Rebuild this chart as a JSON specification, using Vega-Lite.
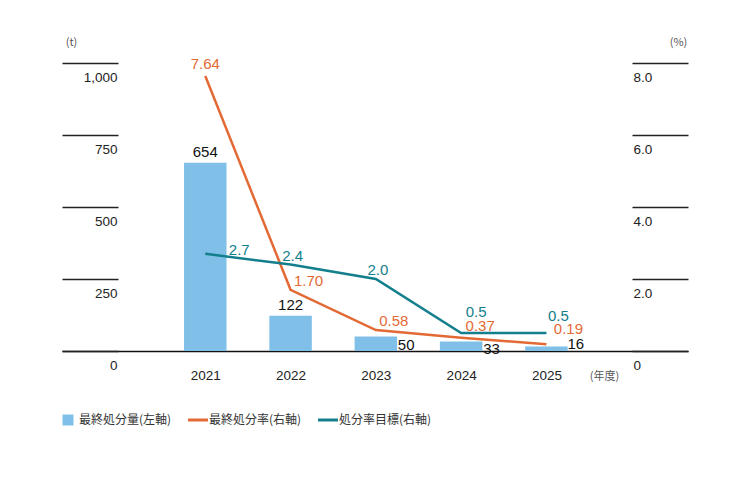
{
  "$schema": "https://vega.github.io/schema/vega-lite/v6.json",
  "autosize": {"type": "none"},
  "padding": {"left": 62, "top": 63, "right": 62, "bottom": 129},
  "width": 626,
  "height": 288,
  "background": "white",
  "config": {
    "view": {"stroke": null},
    "text": {"font": "Liberation Sans", "fontSize": 15},
    "axis": {"labelFont": "Liberation Sans", "titleFont": "Noto Sans CJK JP"}
  },
  "data": {
    "values": [
      {"year": 2021, "amount": 654, "rate": 7.64, "target": 2.7},
      {"year": 2022, "amount": 122, "rate": 1.70, "target": 2.4},
      {"year": 2023, "amount": 50, "rate": 0.58, "target": 2.0},
      {"year": 2024, "amount": 33, "rate": 0.37, "target": 0.5},
      {"year": 2025, "amount": 16, "rate": 0.19, "target": 0.5}
    ]
  },
  "encoding": {
    "x": {
      "field": "year",
      "type": "quantitative",
      "scale": {"domain": [2019.32, 2026.66], "nice": false, "zero": false, "padding": 0},
      "axis": {
        "values": [2021, 2022, 2023, 2024, 2025],
        "format": "d",
        "labelAngle": 0,
        "labelFlush": false,
        "grid": false,
        "ticks": false,
        "domainColor": "#111",
        "domainWidth": 1.5,
        "labelPadding": 17,
        "labelBaseline": "top",
        "labelFontSize": 13.5,
        "labelColor": "#222",
        "title": "(年度)",
        "titleFontSize": 11,
        "titleFontWeight": "normal",
        "titleColor": "#555",
        "titleX": 542,
        "titleY": 25,
        "titleAlign": "center",
        "titleBaseline": "middle"
      }
    }
  },
  "layer": [
    {
      "encoding": {
        "y": {
          "field": "amount",
          "type": "quantitative",
          "scale": {"domain": [0, 1000], "nice": false},
          "axis": {
            "values": [0, 250, 500, 750, 1000],
            "format": ",.0f",
            "grid": false,
            "domain": false,
            "offset": -56,
            "tickSize": 56,
            "tickColor": "#222",
            "tickWidth": 1.3,
            "labelAlign": "right",
            "labelBaseline": "middle",
            "labelPadding": -55,
            "labelOffset": 14,
            "labelFontSize": 13.5,
            "labelColor": "#222",
            "labelOverlap": false,
            "labelFlush": false,
            "title": "(t)",
            "titleAngle": 0,
            "titleX": -47,
            "titleY": -21,
            "titleAlign": "center",
            "titleBaseline": "middle",
            "titleFontSize": 11,
            "titleFontWeight": "normal",
            "titleColor": "#555"
          }
        }
      },
      "layer": [
        {
          "mark": {"type": "bar", "width": 42.5},
          "encoding": {
            "color": {
              "datum": "最終処分量(左軸)",
              "type": "nominal",
              "scale": {
                "domain": ["最終処分量(左軸)", "最終処分率(右軸)", "処分率目標(右軸)"],
                "range": ["#80c0e8", "#e36a35", "#137e8c"]
              },
              "legend": {
                "title": null,
                "orient": "none",
                "direction": "horizontal",
                "legendX": 0,
                "legendY": 351,
                "padding": 0,
                "labelFont": "Noto Sans CJK JP",
                "labelFontSize": 12,
                "labelColor": "#333",
                "labelLimit": 300,
                "labelOffset": 5,
                "columnPadding": 10,
                "encode": {
                  "symbols": {
                    "update": {
                      "shape": {"signal": "datum.value === '最終処分量(左軸)' ? 'square' : 'stroke'"},
                      "size": {"signal": "datum.value === '最終処分量(左軸)' ? 121 : 400"},
                      "strokeWidth": {"signal": "datum.value === '最終処分量(左軸)' ? 0 : 3"},
                      "fill": {"scale": "color", "field": "value"},
                      "stroke": {"scale": "color", "field": "value"},
                      "opacity": {"value": 1}
                    }
                  }
                }
              }
            }
          }
        },
        {
          "transform": [{"filter": {"field": "year", "oneOf": [2021, 2022]}}],
          "mark": {"type": "text", "baseline": "bottom", "dy": -3, "color": "#111"},
          "encoding": {"text": {"field": "amount", "type": "quantitative"}}
        },
        {
          "transform": [{"filter": {"field": "year", "oneOf": [2023, 2024]}}],
          "mark": {"type": "text", "align": "left", "baseline": "middle", "dx": 22, "dy": 8, "color": "#111"},
          "encoding": {"text": {"field": "amount", "type": "quantitative"}}
        },
        {
          "transform": [{"filter": {"field": "year", "equal": 2025}}],
          "mark": {"type": "text", "align": "left", "baseline": "middle", "dx": 21, "dy": -2, "color": "#111"},
          "encoding": {"text": {"field": "amount", "type": "quantitative"}}
        }
      ]
    },
    {
      "encoding": {
        "y": {
          "field": "rate",
          "type": "quantitative",
          "title": "(%)",
          "scale": {"domain": [0, 8], "nice": false},
          "axis": {
            "orient": "right",
            "values": [0, 2, 4, 6, 8],
            "labelExpr": "datum.value == 0 ? '0' : format(datum.value, '.1f')",
            "grid": false,
            "domain": false,
            "offset": -56,
            "tickSize": 56,
            "tickColor": "#222",
            "tickWidth": 1.3,
            "labelAlign": "left",
            "labelBaseline": "middle",
            "labelPadding": -55,
            "labelOffset": 14,
            "labelFontSize": 13.5,
            "labelColor": "#222",
            "labelOverlap": false,
            "labelFlush": false,
            "title": "(%)",
            "titleAngle": 0,
            "titleX": 46,
            "titleY": -21,
            "titleAlign": "center",
            "titleBaseline": "middle",
            "titleFontSize": 11,
            "titleFontWeight": "normal",
            "titleColor": "#555"
          }
        }
      },
      "layer": [
        {
          "mark": {"type": "line", "strokeWidth": 2.5},
          "encoding": {"color": {"datum": "最終処分率(右軸)", "type": "nominal"}}
        },
        {
          "mark": {"type": "line", "strokeWidth": 2.5},
          "encoding": {
            "y": {"field": "target", "type": "quantitative", "title": "(%)"},
            "color": {"datum": "処分率目標(右軸)", "type": "nominal"}
          }
        },
        {
          "transform": [{"filter": {"field": "year", "equal": 2021}}],
          "mark": {"type": "text", "baseline": "middle", "dy": -12, "color": "#e36a35"},
          "encoding": {"text": {"field": "rate", "type": "quantitative", "format": ".2f"}}
        },
        {
          "transform": [{"filter": {"field": "year", "oneOf": [2022, 2023]}}],
          "mark": {"type": "text", "baseline": "middle", "dx": 18, "dy": -9, "color": "#e36a35"},
          "encoding": {"text": {"field": "rate", "type": "quantitative", "format": ".2f"}}
        },
        {
          "transform": [{"filter": {"field": "year", "equal": 2024}}],
          "mark": {"type": "text", "baseline": "middle", "dx": 19, "dy": -12, "color": "#e36a35"},
          "encoding": {"text": {"field": "rate", "type": "quantitative", "format": ".2f"}}
        },
        {
          "transform": [{"filter": {"field": "year", "equal": 2025}}],
          "mark": {"type": "text", "baseline": "middle", "dx": 22, "dy": -15, "color": "#e36a35"},
          "encoding": {"text": {"field": "rate", "type": "quantitative", "format": ".2f"}}
        },
        {
          "transform": [{"filter": {"field": "year", "equal": 2021}}],
          "mark": {"type": "text", "baseline": "middle", "dx": 34, "dy": -4, "color": "#137e8c"},
          "encoding": {
            "y": {"field": "target", "type": "quantitative", "title": "(%)"},
            "text": {"field": "target", "type": "quantitative", "format": ".1f"}
          }
        },
        {
          "transform": [{"filter": {"field": "year", "oneOf": [2022, 2023]}}],
          "mark": {"type": "text", "baseline": "middle", "dx": 2, "dy": -9, "color": "#137e8c"},
          "encoding": {
            "y": {"field": "target", "type": "quantitative", "title": "(%)"},
            "text": {"field": "target", "type": "quantitative", "format": ".1f"}
          }
        },
        {
          "transform": [{"filter": {"field": "year", "equal": 2024}}],
          "mark": {"type": "text", "baseline": "middle", "dx": 15, "dy": -21, "color": "#137e8c"},
          "encoding": {
            "y": {"field": "target", "type": "quantitative", "title": "(%)"},
            "text": {"field": "target", "type": "quantitative", "format": ".1f"}
          }
        },
        {
          "transform": [{"filter": {"field": "year", "equal": 2025}}],
          "mark": {"type": "text", "baseline": "middle", "dx": 12, "dy": -17, "color": "#137e8c"},
          "encoding": {
            "y": {"field": "target", "type": "quantitative", "title": "(%)"},
            "text": {"field": "target", "type": "quantitative", "format": ".1f"}
          }
        }
      ]
    }
  ],
  "resolve": {"scale": {"y": "independent"}}
}
